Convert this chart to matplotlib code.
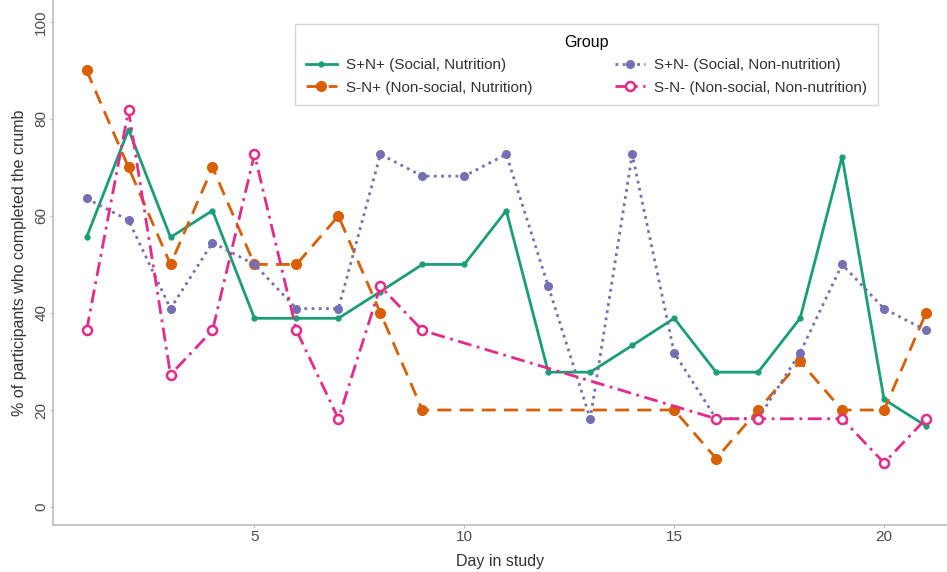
import numpy as np
import matplotlib.pyplot as plt

plt.rcParams['font.family'] = ['Liberation Sans', 'DejaVu Sans']

# Data (NaN = no value that day)
days = np.arange(1, 22)
snp_social_nutr = [55.6, 77.8, 55.6, 61.1, 38.9, 38.9, 38.9, 44.4, 50.0, 50.0, 61.1,
                   27.8, 27.8, 33.3, 38.9, 27.8, 27.8, 38.9, 72.2, 22.2, 16.7]
snp_nonsocial_nutr = [90, 70, 50, 70, 50, 50, 60, 40, 20, np.nan, np.nan,
                      np.nan, np.nan, np.nan, 20, 10, 20, 30, 20, 20, 40]
snm_social_nonnutr = [63.6, 59.1, 40.9, 54.5, 50.0, 40.9, 40.9, 72.7, 68.2, 68.2, 72.7,
                      45.5, 18.2, 72.7, 31.8, 18.2, 18.2, 31.8, 50.0, 40.9, 36.4]
snm_nonsocial_nonnutr = [36.4, 81.8, 27.3, 36.4, 72.7, 36.4, 18.2, 45.5, 36.4, np.nan, np.nan,
                         np.nan, np.nan, np.nan, np.nan, 18.2, 18.2, np.nan, 18.2, 9.1, 18.2]
labels = ['S+N+ (Social, Nutrition)', 'S-N+ (Non-social, Nutrition)',
          'S+N- (Social, Non-nutrition)', 'S-N- (Non-social, Non-nutrition)']

fig = plt.figure(figsize=(9.47, 5.72), dpi=100)
ax = fig.add_axes([53 / 947, 47 / 572, 894 / 947, 525 / 572])


def draw(y, **kw):
    # connect across missing days, like the original
    y = np.array(y, dtype=float)
    ok = ~np.isnan(y)
    return ax.plot(days[ok], y[ok], **kw)[0]


h1 = draw(snp_social_nutr, color='#1B9E77', lw=2, ls='-', marker='o', ms=3.5, label=labels[0])
h2 = draw(snp_nonsocial_nutr, color='#D95F02', lw=2, ls=(0, (5, 3)), marker='o', ms=7,
          label=labels[1])
h3 = draw(snm_social_nonnutr, color='#7570B3', lw=2, ls=(0, (1, 1.6)), marker='o', ms=5.5,
          label=labels[2])
h4 = draw(snm_nonsocial_nonnutr, color='#E7298A', lw=2, ls=(0, (5, 2, 1, 2)), marker='o', ms=6.5,
          mfc='white', mew=1.8, label=labels[3])

ax.set_xlim(0.2, 21.5)
ax.set_ylim(-3.7, 104.5)
ax.set_xticks([5, 10, 15, 20])
ax.set_yticks([0, 20, 40, 60, 80, 100])
for s in ['top', 'right']:
    ax.spines[s].set_visible(False)
for s in ['left', 'bottom']:
    ax.spines[s].set_color('#bdbdbd')
    ax.spines[s].set_linewidth(1.2)
ax.tick_params(colors='#bdbdbd', labelcolor='#4d4d4d', labelsize=11, length=2, pad=1.5)
plt.setp(ax.get_yticklabels(), rotation=90, va='center')
ax.set_xlabel('Day in study', fontsize=11.5, color='#333333', labelpad=7)
ax.set_ylabel('% of participants who completed the crumb', fontsize=11.5, color='#333333',
              labelpad=5)

leg = ax.legend(handles=[h1, h2, h3, h4], ncol=2, title='Group', fontsize=11,
                title_fontsize=11.5, loc='upper left', bbox_to_anchor=(0.271, 0.954),
                borderaxespad=0, frameon=True, fancybox=False, edgecolor='#cccccc',
                handlelength=2.0, handletextpad=0.6, columnspacing=5.4,
                labelspacing=0.55, borderpad=0.7)
leg.get_frame().set_linewidth(1.0)
for t in leg.get_texts():
    t.set_color('#333333')

fig.savefig('out.png', dpi=100)
